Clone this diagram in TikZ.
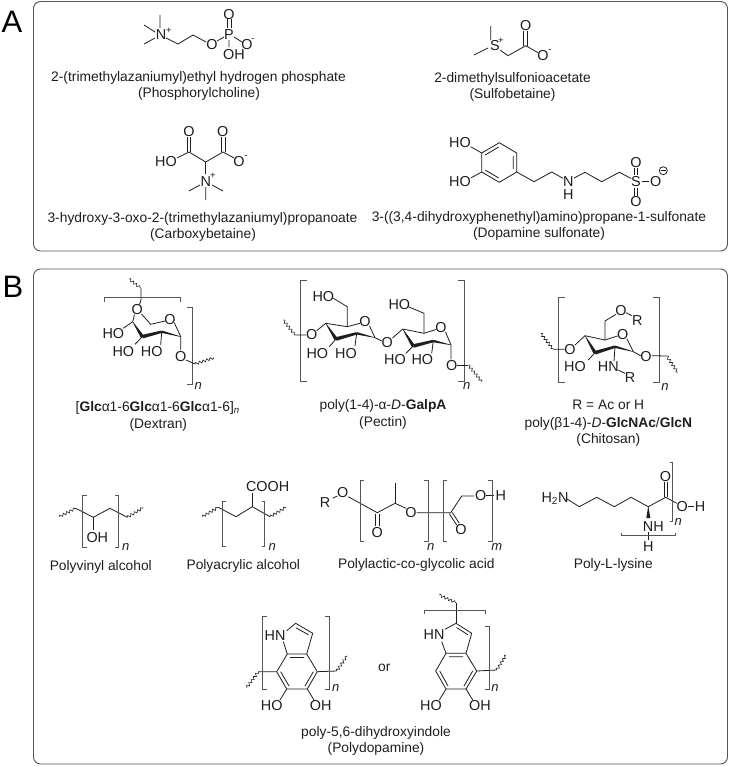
\documentclass[tikz,border=0pt]{standalone}
\usepackage{fontspec}
\setmainfont{Liberation Sans}
\usetikzlibrary{calc,decorations.pathmorphing}
\definecolor{ink}{HTML}{1E1E1E}
\definecolor{brk}{HTML}{555555}
\tikzset{
  atom/.style={inner sep=0pt,text=ink,font=\fontsize{14.4}{15}\selectfont,text height=10pt,text depth=0pt},
  chg/.style={inner sep=0pt,text=ink,font=\fontsize{9.5}{10}\selectfont},
  capt/.style={inner sep=0pt,text=ink,font=\fontsize{13.8}{15}\selectfont,text height=11.5pt,text depth=2.5pt},
  idx/.style={inner sep=0pt,text=ink,font=\fontsize{13}{14}\selectfont\itshape},
  bond/.style={draw=ink,line width=0.8pt},
  bracket/.style={draw=brk,line width=0.8pt},
  wavy/.style={draw=ink,line width=0.6pt,decorate,decoration={snake,amplitude=1.3pt,segment length=3.8pt}},
  frame/.style={draw=brk,line width=0.9pt,rounded corners=7pt},
  panel/.style={inner sep=0pt,text=black,font=\fontsize{31}{32}\selectfont}
}
\newcommand{\wdg}[4]{\fill[ink] ($(#1)!#3!90:(#2)$) -- ($(#1)!#3!-90:(#2)$) -- ($(#2)!#4!90:(#1)$) -- ($(#2)!#4!-90:(#1)$) -- cycle;}
\begin{document}
\begin{tikzpicture}[x=1pt,y=-1pt]
\useasboundingbox (0,0) rectangle (731,766);
\fill[white] (0,0) rectangle (731,766);
\draw[frame] (33.5,1.5) rectangle (727.5,251);
\draw[frame] (33.5,269) rectangle (727.5,764);
\node[panel] (pA) at (12,22) {A};
\node[panel] (pB) at (13,287) {B};

%% Phosphorylcholine
\node[atom] (pcN) at (161,34) {N};
\node[chg] (pcNp) at (169,30.5) {+};
\node[atom] (pcO1) at (212,44) {O};
\node[atom] (pcP) at (229,34) {P};
\node[atom] (pcO2) at (229,14) {O};
\node[atom] (pcOH) at (234,54) {OH};
\node[atom] (pcO3) at (247,44) {O};
\node[chg] (pcOm) at (253,40) {-};
\draw[bond] (160,15)--(160,28) (144,25)--(155,32) (144,44)--(155,38);
\draw[bond] (166,38)--(178,44)--(193,35)--(206,42);
\draw[bond] (217,41)--(224,37);
\draw[bond] (227.5,19)--(227.5,28) (231.5,19)--(231.5,28);
\draw[bond] (229,40)--(229,47) (234,37)--(242,42);
\node[capt] (t1) at (198.5,77) {2-(trimethylazaniumyl)ethyl hydrogen phosphate};
\node[capt] (t2) at (199,93) {(Phosphorylcholine)};

%% Carboxybetaine
\node[atom] (cbO1) at (189,131) {O};
\node[atom] (cbO2) at (222.7,131) {O};
\node[atom] (cbHO) at (166,161) {HO};
\node[atom] (cbO3) at (239,161) {O};
\node[chg] (cbOm) at (246,157) {-};
\node[atom] (cbN) at (205.7,181) {N};
\node[chg] (cbNp) at (213,176) {+};
\draw[bond] (187.3,137)--(187.3,152) (190.7,137)--(190.7,152);
\draw[bond] (221.7,137)--(221.7,152) (225,137)--(225,152);
\draw[bond] (177,158)--(189,152)--(205.7,162)--(223,152)--(234,158);
\draw[bond] (205.7,162)--(205.7,174);
\draw[bond] (200,185)--(189,191) (212,185)--(223,191) (205.7,187)--(205.7,200);
\node[capt] (t3) at (202.5,218) {3-hydroxy-3-oxo-2-(trimethylazaniumyl)propanoate};
\node[capt] (t4) at (203,234) {(Carboxybetaine)};

%% Sulfobetaine
\node[atom] (sbS) at (495,45) {S};
\node[chg] (sbSp) at (501,40.5) {+};
\node[atom] (sbO1) at (543,55) {O};
\node[chg] (sbOm) at (550,51) {-};
\node[atom] (sbO2) at (525.7,25) {O};
\draw[bond] (490.7,26)--(490.7,40) (474,55)--(488,48);
\draw[bond] (500,50)--(508,55.7)--(525.7,45.7)--(538,52.7);
\draw[bond] (523.7,30.5)--(523.7,45.5) (527.2,30.5)--(527.2,45.5);
\node[capt] (t5) at (512.5,78) {2-dimethylsulfonioacetate};
\node[capt] (t6) at (512.5,94) {(Sulfobetaine)};

%% Dopamine sulfonate
\node[atom] (dsHO1) at (460,142.7) {HO};
\node[atom] (dsHO2) at (460,181.7) {HO};
\node[atom] (dsN) at (568.3,181) {N};
\node[atom] (dsH) at (568.3,194) {H};
\node[atom] (dsS) at (636,181) {S};
\node[atom] (dsO1) at (636,162.3) {O};
\node[atom] (dsO2) at (636,201.7) {O};
\node[atom] (dsO3) at (655.7,181.7) {O};
\draw[bond] (663.3,170.7) circle (4);
\draw[bond] (660.8,170.7)--(665.8,170.7);
\draw[bond] (499.3,142.7)--(516.7,153)--(516.7,172)--(499.3,182.3)--(481.7,172)--(481.7,153)--cycle;
\draw[bond] (485.2,155)--(498.7,147) (513.3,156)--(513.3,169) (485.2,170)--(498.7,178);
\draw[bond] (470.7,146.7)--(481.7,153) (470.7,178)--(481.7,172);
\draw[bond] (516.7,172)--(534,181.7)--(551.7,172)--(563,178.3);
\draw[bond] (574,178)--(585,172.3)--(601.7,181.7)--(619.3,172.3)--(631.2,178.5);
\draw[bond] (634.3,168)--(634.3,175) (637.7,168)--(637.7,175);
\draw[bond] (634.3,187.7)--(634.3,195.7) (637.7,187.7)--(637.7,195.7);
\draw[bond] (641.7,181.7)--(649.3,181.7);
\node[capt] (t7) at (539,216.7) {3-((3,4-dihydroxyphenethyl)amino)propane-1-sulfonate};
\node[capt] (t8) at (539,233) {(Dopamine sulfonate)};

%% Dextran
\node[atom] (dxO1) at (137.3,309.3) {O};
\node[atom] (dxO2) at (170,319) {O};
\node[atom] (dxHO1) at (113.3,333.3) {HO};
\node[atom] (dxHO2) at (123.3,351) {HO};
\node[atom] (dxHO3) at (151.7,351) {HO};
\node[atom] (dxO3) at (180.7,356.7) {O};
\node[idx] (dxn) at (198.3,385.7) {n};
\draw[wavy] (129,279)--(141,288.3);
\draw[bond] (141,288.3)--(141,300)--(139.5,304.5);
\draw[bracket] (104,302.3)--(104,297.7)--(180,297.7)--(180,302.3);
\draw[bracket] (187.3,307.7)--(192.7,307.7)--(192.7,384)--(187.3,384);
\draw[bond] (134.5,314.5)--(132.7,321.7) (141.5,314)--(150.7,324.3)--(165,321);
\draw[bond] (174.5,322.5)--(175,324.3)--(180.7,336.7);
\draw[bond] (132.7,321.7)--(123.3,328.3) (142.3,336.7)--(135,344.3) (161.7,331.7)--(160.7,345);
\draw[bond] (180.7,336.7)--(180.7,350) (186,360)--(195,364);
\draw[wavy] (195,364)--(214,357.7);
\wdg{132.7,321.7}{142.3,336.7}{0.2pt}{1.8pt}
\wdg{142.3,336.7}{161.7,331.7}{1.8pt}{1.2pt}
\wdg{161.7,331.7}{180.7,336.7}{1.2pt}{0.2pt}
\node[capt] (t9) at (157.7,406.7) {[\textbf{Glc}α1-6\textbf{Glc}α1-6\textbf{Glc}α1-6]\textsubscript{\textit{n}}};
\node[capt] (t10) at (158.3,424.3) {(Dextran)};

%% Pectin
\node[atom] (peO0) at (311.7,334.3) {O};
\node[atom] (peO1) at (365,321.7) {O};
\node[atom] (peHO1) at (323.3,296) {HO};
\node[atom] (peHO2) at (317.3,353.3) {HO};
\node[atom] (peHO3) at (346,353.3) {HO};
\node[atom] (peO2) at (387.3,342.3) {O};
\node[atom] (peO3) at (441,327.7) {O};
\node[atom] (peHO4) at (399.3,304) {HO};
\node[atom] (peHO5) at (395,359.3) {HO};
\node[atom] (peHO6) at (422.3,359.3) {HO};
\node[atom] (peO4) at (451.7,365) {O};
\node[idx] (pen) at (466.7,385.7) {n};
\draw[bracket] (306.7,280.7)--(300,280.7)--(300,381.7)--(306.7,381.7);
\draw[bracket] (457.7,280.7)--(464,280.7)--(464,381.7)--(457.7,381.7);
\draw[wavy] (283.3,320)--(295,335);
\draw[bond] (295,335)--(306,335) (316.7,330.7)--(325.7,323.3);
\draw[bond] (325.7,323.3)--(347.3,326.7)--(360,323.3) (369.5,326)--(375,337.7);
\draw[bond] (347.3,326.7)--(347.3,306.7)--(333.3,298.3);
\draw[bond] (336,339)--(329.3,346.7) (356.7,333.3)--(355,346) (375,337.7)--(381.7,341);
\draw[bond] (392.5,338)--(402.7,329);
\draw[bond] (402.7,329)--(424,333.3)--(436,329.5) (445.5,332)--(451,345);
\draw[bond] (424,333.3)--(424,313.3)--(408.3,306.7);
\draw[bond] (413.3,346)--(406,353.3) (433.3,341)--(431.7,353.3) (451,345)--(451,359.3);
\draw[bond] (456.7,365)--(468.3,365);
\draw[wavy] (468.3,365)--(481.7,381.7);
\wdg{325.7,323.3}{336,339}{0.2pt}{1.8pt}
\wdg{336,339}{356.7,333.3}{1.8pt}{1.2pt}
\wdg{356.7,333.3}{375,337.7}{1.2pt}{0.2pt}
\wdg{402.7,329}{413.3,346}{0.2pt}{1.8pt}
\wdg{413.3,346}{433.3,341}{1.8pt}{1.2pt}
\wdg{433.3,341}{451,345}{1.2pt}{0.2pt}
\node[capt] (t11) at (383,405) {poly(1-4)-α-\textit{D}-\textbf{GalpA}};
\node[capt] (t12) at (383,421.7) {(Pectin)};

%% Chitosan
\node[atom] (chO0) at (570,349) {O};
\node[atom] (chO1) at (622.7,334.3) {O};
\node[atom] (chO2) at (621,310) {O};
\node[atom] (chR1) at (637.3,320) {R};
\node[atom] (chHO) at (575,366) {HO};
\node[atom] (chHN) at (608.3,366.7) {HN};
\node[atom] (chR2) at (630,377.7) {R};
\node[atom] (chO3) at (646,356.7) {O};
\node[idx] (chn) at (665,386.7) {n};
\draw[bracket] (565,297.7)--(558.3,297.7)--(558.3,382.3)--(565,382.3);
\draw[bracket] (653.3,297.7)--(659.3,297.7)--(659.3,382.3)--(653.3,382.3);
\draw[wavy] (540.7,333.3)--(553.3,349.3);
\draw[bond] (553.3,349.3)--(564.5,349.3) (575,345)--(585,335.7);
\draw[bond] (585,335.7)--(605,340)--(617.5,336) (627,339)--(633.3,351.7);
\draw[bond] (605,340)--(605,321)--(616,314.3);
\draw[bond] (626,312.7)--(631.7,315.7);
\draw[bond] (595,352.7)--(588.3,360) (615,346.7)--(614,361.5);
\draw[bond] (618.3,370)--(625,373.3) (633.3,351.7)--(640.7,355.7);
\draw[bond] (651.7,355.7)--(666.7,356);
\draw[wavy] (666.7,356)--(677.7,372.3);
\wdg{585,335.7}{595,352.7}{0.2pt}{1.8pt}
\wdg{595,352.7}{615,346.7}{1.8pt}{1.2pt}
\wdg{615,346.7}{633.3,351.7}{1.2pt}{0.2pt}
\node[capt] (t13) at (608.3,405) {R = Ac or H};
\node[capt] (t14) at (608.3,422.7) {poly(β1-4)-\textit{D}-\textbf{GlcNAc}/\textbf{GlcN}};
\node[capt] (t15) at (608.3,439) {(Chitosan)};

%% Polyvinyl alcohol
\node[atom] (pvOH) at (97.3,537.3) {OH};
\node[idx] (pvn) at (125.7,547.3) {n};
\draw[wavy] (59.3,516.7)--(75.7,508.3);
\draw[bond] (75.7,508.3)--(93.3,517.3)--(110,508.3)--(127.3,517.3);
\draw[wavy] (127.3,517.3)--(143.3,507.7);
\draw[bond] (93.3,517.3)--(93.3,530);
\draw[bracket] (86.7,495)--(82.7,495)--(82.7,547.3)--(86.7,547.3);
\draw[bracket] (115,495)--(118.3,495)--(118.3,547.3)--(115,547.3);
\node[capt] (t16) at (100.8,566) {Polyvinyl alcohol};

%% Polyacrylic
\node[atom] (paC) at (267.7,486.7) {COOH};
\node[idx] (pan) at (272.3,546.7) {n};
\draw[wavy] (202.3,516.7)--(218.3,507.3);
\draw[bond] (218.3,507.3)--(236,516.7)--(252.3,506.7)--(270,516.7);
\draw[wavy] (270,516.7)--(286,507.3);
\draw[bond] (252.3,506.7)--(252.3,493.3);
\draw[bracket] (225.7,501)--(222.7,501)--(222.7,546)--(225.7,546);
\draw[bracket] (261.7,501)--(264.3,501)--(264.3,546)--(261.7,546);
\node[capt] (t17) at (243.3,565) {Polyacrylic alcohol};

%% PLGA
\node[atom] (plR) at (325,502.7) {R};
\node[atom] (plO1) at (342.7,492.7) {O};
\node[atom] (plO2) at (411,512.7) {O};
\node[atom] (plO3) at (377.3,532.3) {O};
\node[atom] (plO4) at (461,529) {O};
\node[atom] (plO5) at (480.7,495.7) {O};
\node[atom] (plH) at (500.7,495.7) {H};
\node[idx] (pln) at (430.7,546.7) {n};
\node[idx] (plm) at (496.7,546.7) {m};
\draw[bond] (332.7,498.3)--(337.3,496);
\draw[bond] (348.3,496.7)--(377.3,512.7)--(395,503.3)--(406,508.3);
\draw[bond] (395,503.3)--(395,483.3);
\draw[bond] (416.7,512.7)--(450.7,512.7)--(461.7,496)--(474,496);
\draw[bond] (485.7,495.7)--(494.3,495.7);
\draw[bond] (375.7,513.5)--(375.7,526) (379,513.5)--(379,526);
\draw[bond] (449.3,513.7)--(456.7,525) (452.3,512.5)--(459.3,523.3);
\draw[bracket] (364,480)--(360,480)--(360,541.7)--(364,541.7);
\draw[bracket] (424.3,480)--(428.3,480)--(428.3,541.7)--(424.3,541.7);
\draw[bracket] (447.3,480)--(443.3,480)--(443.3,541.7)--(447.3,541.7);
\draw[bracket] (488.3,480)--(492.7,480)--(492.7,541.7)--(488.3,541.7);
\node[capt] (t18) at (416.3,564) {Polylactic-co-glycolic acid};

%% Poly-L-lysine
\node[atom] (lyN) at (555,497.3) {H\textsubscript{2}N};
\node[atom] (lyO1) at (665.5,476.7) {O};
\node[atom] (lyO2) at (682.3,506) {O};
\node[atom] (lyH1) at (700,506) {H};
\node[atom] (lyNH) at (653.3,526) {NH};
\node[atom] (lyH2) at (648.3,546) {H};
\node[idx] (lyn) at (678.3,522.3) {n};
\draw[bond] (566,498.3)--(579.3,506.7)--(596.7,497.3)--(614.3,506.7)--(631,497.3)--(648.3,506.7)--(665.7,497.3)--(676.7,503.3);
\draw[bond] (664,481.7)--(664,497.3) (667.3,481.7)--(667.3,497.3);
\draw[bond] (687.5,506)--(693.5,506);
\wdg{648.3,506.7}{648.3,518}{0.2pt}{2pt}
\draw[bond] (648.3,532)--(648.3,540);
\draw[bracket] (621.7,533)--(621.7,535.7)--(675.7,535.7)--(675.7,533);
\draw[bracket] (669.5,462)--(672.7,462)--(672.7,521.7)--(669.5,521.7);
\node[capt] (t19) at (613.3,564.3) {Poly-L-lysine};

%% Polydopamine left
\node[atom] (pdHN1) at (275,635) {HN};
\node[atom] (pdHO1) at (271.7,705.7) {HO};
\node[atom] (pdOH1) at (320.7,705.7) {OH};
\node[idx] (pdn1) at (335.7,688.3) {n};
\draw[bond] (286.7,630.7)--(295.7,623.3)--(312.7,633.3)--(306.7,654);
\draw[bond] (296,627.8)--(308.5,634.8);
\draw[bond] (283.3,641.7)--(287.3,654);
\draw[bond] (287.3,654)--(306.7,654)--(317.3,671.7)--(307.3,689)--(286.7,689)--(276.7,671.7)--cycle;
\draw[bond] (290,657.5)--(304,657.5) (313.3,671.7)--(305,686) (289,686)--(280.7,671.7);
\draw[bond] (276.7,671.7)--(258.3,671.7) (317.3,671.7)--(336.7,671);
\draw[wavy] (258.3,671.7)--(246.7,687.7);
\draw[wavy] (336.7,671)--(347.3,655.7);
\draw[bond] (286.7,689)--(280,700) (307.3,689)--(314,700);
\draw[bracket] (266.7,616.7)--(262.3,616.7)--(262.3,689.3)--(266.7,689.3);
\draw[bracket] (325,616.7)--(329.3,616.7)--(329.3,689.3)--(325,689.3);
\node[capt] (tor) at (384.3,667.3) {or};

%% Polydopamine right
\node[atom] (pdHN2) at (434,634.3) {HN};
\node[atom] (pdHO2) at (431,705.7) {HO};
\node[atom] (pdOH2) at (480,705.7) {OH};
\node[idx] (pdn2) at (495,688.3) {n};
\draw[wavy] (439.3,595)--(456,602.7);
\draw[bond] (456,602.7)--(456,623.3);
\draw[bracket] (424.3,614)--(424.3,610.7)--(485,610.7)--(485,614);
\draw[bond] (445,629.3)--(456,623.3)--(471.7,633.3)--(466,653.3);
\draw[bond] (456.5,627.5)--(468,634.8);
\draw[bond] (441.7,641.7)--(446,653.3);
\draw[bond] (446,653.3)--(466,653.3)--(476.7,671)--(466,689)--(446,689)--(435.7,671)--cycle;
\draw[bond] (449,656.8)--(463,656.8) (472.7,671)--(464,686) (448,686)--(439.7,671);
\draw[bond] (476.7,671)--(496.7,670);
\draw[wavy] (496.7,670)--(506,655);
\draw[bond] (446,689)--(439.3,700) (466,689)--(472.7,700);
\draw[bracket] (485,626)--(489.3,626)--(489.3,689)--(485,689);
\node[capt] (t20) at (376,731.7) {poly-5,6-dihydroxyindole};
\node[capt] (t21) at (376,748.3) {(Polydopamine)};
\end{tikzpicture}
\end{document}
